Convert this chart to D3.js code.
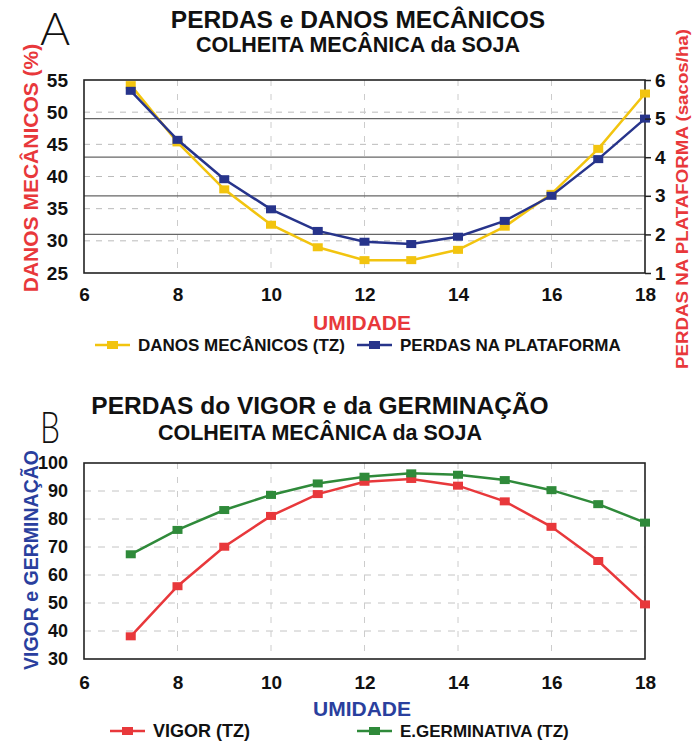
<!DOCTYPE html>
<html><head><meta charset="utf-8">
<script src="https://cdn.jsdelivr.net/npm/d3@7/dist/d3.min.js"></script>
<style>
body{margin:0;background:#fff;}
svg text{font-family:"Liberation Sans",Arial,sans-serif;font-weight:bold;}
</style></head>
<body><svg id="c" width="692" height="743"></svg>
<script>
// ---- data ----
const umidade = [7,8,9,10,11,12,13,14,15,16,17,18];
const danosMecanicos = [54.2,45.3,38.0,32.5,29.0,27.0,27.0,28.6,32.2,37.3,44.3,52.9];
const perdasPlataforma = [5.72,4.45,3.43,2.65,2.09,1.81,1.75,1.94,2.35,3.0,3.95,5.0];
const vigor = [38.1,56.0,70.1,81.1,88.9,93.3,94.3,91.9,86.3,77.2,65.0,49.5];
const germinativa = [67.4,76.1,83.2,88.6,92.7,95.1,96.3,95.8,93.9,90.3,85.3,78.7];
const xTicks = [6,8,10,12,14,16,18];
const yTicksDanos = [25,30,35,40,45,50,55];
const yTicksPerdas = [1,2,3,4,5,6];
const yTicksVigor = [30,40,50,60,70,80,90,100];

const svg = d3.select("#c");
const L = 84, R = 645;
const COL = {yellow:"#f2c40f", blue:"#27348b", red:"#e8383b", green:"#2f8a3a", redText:"#e8383b", blueText:"#2a3f9e"};

function drawSeries(g, x, y, vals, color){
  const data = umidade.map((u,i)=>[u, vals[i]]);
  g.append("path").datum(data)
    .attr("fill","none").attr("stroke",color).attr("stroke-width",2.5)
    .attr("d", d3.line().x(d=>x(d[0])).y(d=>y(d[1])));
  g.selectAll(null).data(data).enter().append("rect")
    .attr("x",d=>x(d[0])-5).attr("y",d=>y(d[1])-4)
    .attr("width",10).attr("height",8).attr("fill",color);
}
function styleAxis(g, size){
  g.select(".domain").remove();
  g.selectAll("text").attr("font-size",size).attr("fill","#111");
}
function legendItem(x0, y0, color, label, fs){
  svg.append("line").attr("x1",x0).attr("x2",x0+35).attr("y1",y0).attr("y2",y0)
    .attr("stroke",color).attr("stroke-width",2.5);
  svg.append("rect").attr("x",x0+12).attr("y",y0-4).attr("width",11).attr("height",8).attr("fill",color);
  svg.append("text").attr("x",x0+43).attr("y",y0+6).attr("font-size",fs||17).attr("fill","#111").text(label);
}

// ---------- Chart A ----------
{
  const T = 80, B = 273;
  const x = d3.scaleLinear().domain([6,18]).range([L,R]);
  const yL = d3.scaleLinear().domain([25,55]).range([B,T]);
  const yR = d3.scaleLinear().domain([1,6]).range([B,T]);
  const g = svg.append("g");
  g.selectAll(null).data(yTicksDanos.slice(1,-1)).enter().append("line")
    .attr("x1",L).attr("x2",R).attr("y1",d=>yL(d)).attr("y2",d=>yL(d))
    .attr("stroke","#bbb").attr("stroke-width",1).attr("stroke-dasharray","6,6");
  g.selectAll(null).data(xTicks.slice(1,-1)).enter().append("line")
    .attr("y1",T).attr("y2",B).attr("x1",d=>x(d)).attr("x2",d=>x(d))
    .attr("stroke","#ccc").attr("stroke-width",1).attr("stroke-dasharray","6,8");
  g.selectAll(null).data(yTicksPerdas.slice(1,-1)).enter().append("line")
    .attr("x1",L).attr("x2",R).attr("y1",d=>yR(d)).attr("y2",d=>yR(d))
    .attr("stroke","#666").attr("stroke-width",1.3);
  g.append("rect").attr("x",L).attr("y",T).attr("width",R-L).attr("height",B-T)
    .attr("fill","none").attr("stroke","#222").attr("stroke-width",1.6);
  drawSeries(g, x, yL, danosMecanicos, COL.yellow);
  drawSeries(g, x, yR, perdasPlataforma, COL.blue);
  const ax = svg.append("g").attr("transform",`translate(0,${B})`)
    .call(d3.axisBottom(x).tickValues(xTicks).tickFormat(d3.format("d")).tickSize(0).tickPadding(15));
  styleAxis(ax,19);
  const ayl = svg.append("g").attr("transform",`translate(${L},0)`)
    .call(d3.axisLeft(yL).tickValues(yTicksDanos).tickFormat(d3.format("d")).tickSize(0).tickPadding(16));
  styleAxis(ayl,19);
  const ayr = svg.append("g").attr("transform",`translate(${R},0)`)
    .call(d3.axisRight(yR).tickValues(yTicksPerdas).tickFormat(d3.format("d")).tickSize(6).tickPadding(4));
  ayr.select(".domain").remove();
  ayr.selectAll("line").attr("stroke","#222").attr("stroke-width",1.5);
  ayr.selectAll("text").attr("font-size",19).attr("fill","#111");
  svg.append("text").attr("x",358).attr("y",28).attr("text-anchor","middle").attr("font-size",24.5).attr("fill","#111").text("PERDAS e DANOS MECÂNICOS");
  svg.append("text").attr("x",358).attr("y",52).attr("text-anchor","middle").attr("font-size",21.5).attr("fill","#111").text("COLHEITA MECÂNICA da SOJA");
  svg.append("text").attr("x",40).attr("y",45).attr("font-size",46).style("font-weight",300).style("font-family","Lato, 'DejaVu Sans', sans-serif").attr("fill","#111").text("A");
  svg.append("text").attr("transform","translate(38,168) rotate(-90)").attr("text-anchor","middle").attr("font-size",21).attr("fill",COL.redText).text("DANOS MECÂNICOS (%)");
  svg.append("text").attr("transform","translate(688,199) rotate(-90)").attr("text-anchor","middle").attr("font-size",17)
    .attr("textLength",340).attr("lengthAdjust","spacingAndGlyphs").attr("fill",COL.redText).text("PERDAS NA PLATAFORMA (sacos/ha)");
  svg.append("text").attr("x",362).attr("y",330).attr("text-anchor","middle").attr("font-size",21).attr("fill",COL.redText).text("UMIDADE");
  legendItem(95,345,COL.yellow,"DANOS MECÂNICOS (TZ)");
  legendItem(357,345,COL.blue,"PERDAS NA PLATAFORMA");
}

// ---------- Chart B ----------
{
  const T = 463, B = 659;
  const x = d3.scaleLinear().domain([6,18]).range([L,R]);
  const y = d3.scaleLinear().domain([30,100]).range([B,T]);
  const g = svg.append("g");
  g.selectAll(null).data(yTicksVigor.slice(1,-1)).enter().append("line")
    .attr("x1",L).attr("x2",R).attr("y1",d=>y(d)).attr("y2",d=>y(d))
    .attr("stroke","#c4c4c4").attr("stroke-width",1).attr("stroke-dasharray","7,7");
  g.selectAll(null).data(xTicks.slice(1,-1)).enter().append("line")
    .attr("y1",T).attr("y2",B).attr("x1",d=>x(d)).attr("x2",d=>x(d))
    .attr("stroke","#ccc").attr("stroke-width",1).attr("stroke-dasharray","6,8");
  g.append("rect").attr("x",L).attr("y",T).attr("width",R-L).attr("height",B-T)
    .attr("fill","none").attr("stroke","#222").attr("stroke-width",1.6);
  drawSeries(g, x, y, vigor, COL.red);
  drawSeries(g, x, y, germinativa, COL.green);
  const ax = svg.append("g").attr("transform",`translate(0,${B})`)
    .call(d3.axisBottom(x).tickValues(xTicks).tickFormat(d3.format("d")).tickSize(0).tickPadding(17));
  styleAxis(ax,19);
  const ay = svg.append("g").attr("transform",`translate(${L},0)`)
    .call(d3.axisLeft(y).tickValues(yTicksVigor).tickFormat(d3.format("d")).tickSize(0).tickPadding(16));
  styleAxis(ay,18);
  svg.append("text").attr("x",320).attr("y",414).attr("text-anchor","middle").attr("font-size",24.5).attr("fill","#111").text("PERDAS do VIGOR e da GERMINAÇÃO");
  svg.append("text").attr("x",320).attr("y",440).attr("text-anchor","middle").attr("font-size",21.5).attr("fill","#111").text("COLHEITA MECÂNICA da SOJA");
  svg.append("text").attr("transform","translate(40,443) scale(0.72,1)").attr("font-size",44).style("font-weight",300).style("font-family","Lato, 'DejaVu Sans', sans-serif").attr("fill","#111").text("B");
  svg.append("text").attr("transform","translate(38,560) rotate(-90)").attr("text-anchor","middle").attr("font-size",19.5).attr("fill",COL.blueText).text("VIGOR e GERMINAÇÃO");
  svg.append("text").attr("x",362).attr("y",716).attr("text-anchor","middle").attr("font-size",21).attr("fill",COL.blueText).text("UMIDADE");
  legendItem(110,731,COL.red,"VIGOR (TZ)",18);
  legendItem(357,731,COL.green,"E.GERMINATIVA (TZ)");
}
</script></body></html>
